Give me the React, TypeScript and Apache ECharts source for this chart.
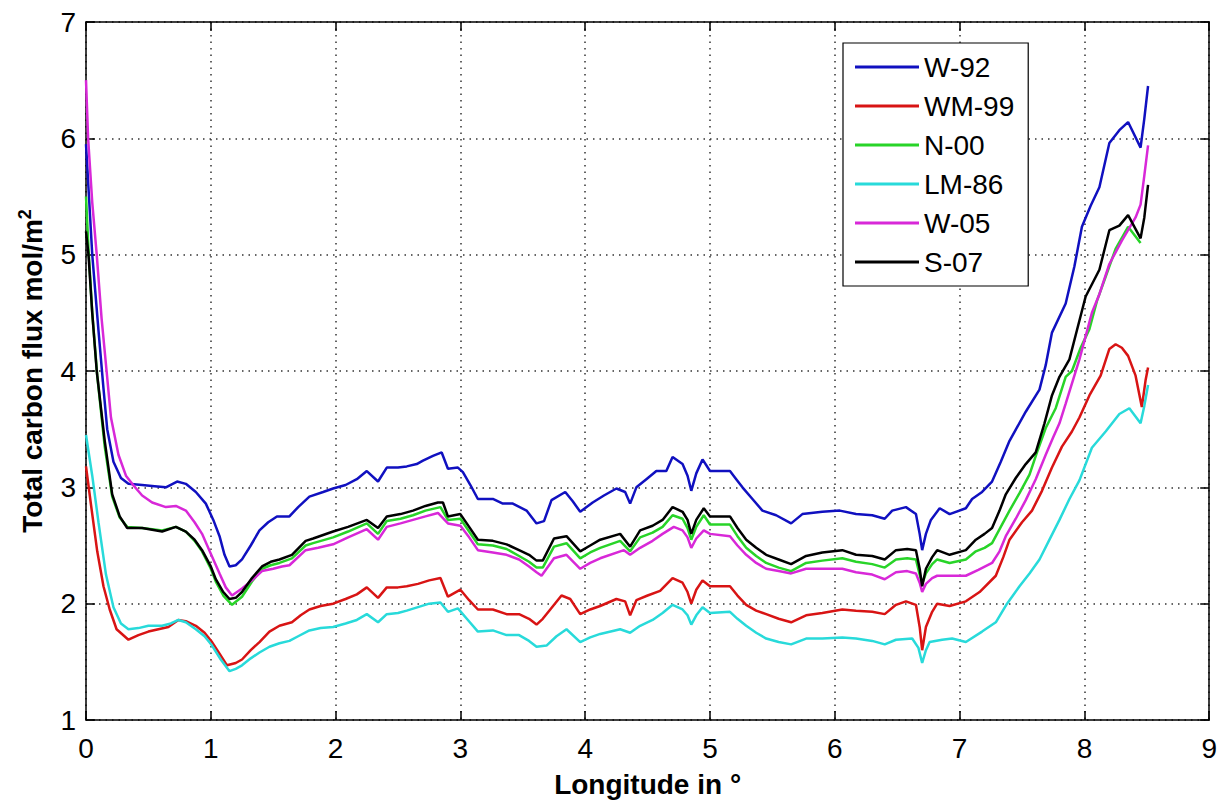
import React, { useEffect, useRef } from "react";
import * as echarts from "echarts";

type Pt = [number, number];

const W92: Pt[] = [[0,5.95],[0.05,5.0],[0.1,4.35],[0.14,3.85],[0.17,3.5],[0.22,3.22],[0.28,3.08],[0.34,3.03],[0.45,3.02],[0.55,3.01],[0.64,3.0],[0.73,3.05],[0.8,3.03],[0.88,2.96],[0.96,2.86],[1.02,2.72],[1.07,2.58],[1.11,2.42],[1.15,2.32],[1.2,2.33],[1.25,2.38],[1.32,2.5],[1.39,2.63],[1.46,2.7],[1.53,2.75],[1.63,2.75],[1.7,2.83],[1.79,2.92],[1.9,2.96],[1.98,2.99],[2.08,3.02],[2.17,3.07],[2.25,3.14],[2.34,3.05],[2.41,3.17],[2.5,3.17],[2.57,3.18],[2.65,3.2],[2.7,3.23],[2.78,3.27],[2.85,3.3],[2.9,3.16],[2.98,3.17],[3.02,3.13],[3.08,3.02],[3.14,2.9],[3.26,2.9],[3.34,2.86],[3.42,2.86],[3.53,2.8],[3.61,2.69],[3.67,2.71],[3.73,2.89],[3.84,2.96],[3.9,2.88],[3.96,2.79],[4.06,2.87],[4.15,2.93],[4.25,2.99],[4.32,2.96],[4.36,2.86],[4.41,3.0],[4.49,3.07],[4.57,3.14],[4.65,3.14],[4.7,3.26],[4.78,3.2],[4.82,3.1],[4.85,2.97],[4.89,3.12],[4.94,3.24],[5.0,3.14],[5.16,3.14],[5.21,3.07],[5.26,3.0],[5.34,2.9],[5.42,2.8],[5.53,2.76],[5.65,2.69],[5.74,2.77],[5.9,2.79],[6.04,2.8],[6.17,2.77],[6.3,2.76],[6.4,2.73],[6.46,2.8],[6.57,2.83],[6.65,2.77],[6.68,2.6],[6.7,2.46],[6.73,2.6],[6.77,2.72],[6.84,2.82],[6.92,2.77],[7.05,2.82],[7.1,2.9],[7.18,2.96],[7.26,3.05],[7.33,3.22],[7.4,3.4],[7.53,3.65],[7.64,3.84],[7.69,4.05],[7.74,4.33],[7.85,4.58],[7.92,4.9],[7.98,5.24],[8.05,5.42],[8.12,5.58],[8.2,5.96],[8.28,6.07],[8.35,6.14],[8.45,5.92],[8.48,6.17],[8.51,6.45]];

const WM99: Pt[] = [[0,3.18],[0.04,2.85],[0.09,2.45],[0.14,2.15],[0.19,1.95],[0.245,1.78],[0.34,1.69],[0.42,1.73],[0.5,1.76],[0.58,1.78],[0.66,1.8],[0.74,1.86],[0.8,1.85],[0.88,1.81],[0.95,1.75],[1.01,1.67],[1.07,1.57],[1.13,1.47],[1.2,1.49],[1.25,1.52],[1.32,1.6],[1.39,1.67],[1.47,1.76],[1.55,1.81],[1.65,1.84],[1.72,1.9],[1.79,1.95],[1.88,1.98],[1.98,2.0],[2.08,2.04],[2.17,2.08],[2.25,2.14],[2.34,2.05],[2.41,2.14],[2.5,2.14],[2.57,2.15],[2.66,2.17],[2.75,2.2],[2.84,2.22],[2.9,2.06],[3.0,2.12],[3.07,2.03],[3.14,1.95],[3.26,1.95],[3.37,1.91],[3.47,1.91],[3.55,1.87],[3.61,1.82],[3.66,1.87],[3.72,1.95],[3.81,2.07],[3.88,2.04],[3.96,1.91],[4.04,1.95],[4.12,1.98],[4.25,2.04],[4.32,2.02],[4.36,1.9],[4.41,2.03],[4.5,2.07],[4.6,2.11],[4.7,2.22],[4.78,2.18],[4.82,2.1],[4.85,2.0],[4.89,2.12],[4.94,2.2],[5.0,2.15],[5.16,2.15],[5.22,2.07],[5.29,1.99],[5.37,1.94],[5.45,1.91],[5.55,1.87],[5.65,1.84],[5.77,1.9],[5.9,1.92],[6.06,1.95],[6.17,1.94],[6.3,1.93],[6.4,1.91],[6.49,1.99],[6.57,2.02],[6.65,1.99],[6.68,1.8],[6.7,1.6],[6.73,1.8],[6.78,1.93],[6.82,2.0],[6.92,1.98],[7.05,2.02],[7.16,2.1],[7.29,2.24],[7.35,2.4],[7.4,2.55],[7.5,2.7],[7.58,2.8],[7.66,2.97],[7.74,3.17],[7.82,3.35],[7.9,3.48],[7.96,3.6],[8.04,3.79],[8.13,3.96],[8.2,4.19],[8.25,4.23],[8.3,4.2],[8.35,4.13],[8.41,3.96],[8.46,3.69],[8.49,3.92],[8.51,4.03]];

const N00: Pt[] = [[0,5.5],[0.02,5.05],[0.05,4.5],[0.09,3.96],[0.15,3.35],[0.21,2.92],[0.27,2.74],[0.33,2.66],[0.45,2.65],[0.61,2.63],[0.72,2.66],[0.8,2.62],[0.87,2.54],[0.93,2.45],[1.0,2.3],[1.04,2.19],[1.1,2.07],[1.17,1.99],[1.25,2.06],[1.33,2.19],[1.41,2.3],[1.48,2.33],[1.55,2.35],[1.65,2.39],[1.76,2.5],[1.82,2.52],[1.98,2.57],[2.1,2.62],[2.25,2.69],[2.34,2.6],[2.41,2.71],[2.52,2.73],[2.62,2.76],[2.72,2.8],[2.84,2.83],[2.9,2.72],[3.0,2.73],[3.07,2.62],[3.14,2.51],[3.26,2.5],[3.37,2.47],[3.47,2.41],[3.55,2.36],[3.61,2.31],[3.66,2.31],[3.75,2.49],[3.85,2.52],[3.96,2.39],[4.04,2.44],[4.12,2.48],[4.28,2.54],[4.36,2.45],[4.44,2.57],[4.54,2.61],[4.62,2.66],[4.7,2.76],[4.78,2.73],[4.82,2.65],[4.85,2.55],[4.89,2.66],[4.95,2.76],[5.0,2.68],[5.16,2.68],[5.22,2.58],[5.29,2.48],[5.37,2.41],[5.45,2.35],[5.55,2.31],[5.65,2.28],[5.77,2.35],[5.9,2.37],[6.06,2.39],[6.17,2.36],[6.3,2.34],[6.4,2.31],[6.49,2.38],[6.58,2.39],[6.65,2.38],[6.68,2.25],[6.7,2.17],[6.73,2.26],[6.78,2.34],[6.82,2.38],[6.92,2.35],[7.05,2.38],[7.13,2.45],[7.2,2.48],[7.26,2.52],[7.33,2.66],[7.4,2.8],[7.48,2.95],[7.56,3.11],[7.62,3.3],[7.69,3.51],[7.77,3.68],[7.85,3.95],[7.9,4.0],[7.97,4.2],[8.04,4.36],[8.1,4.6],[8.17,4.81],[8.25,5.05],[8.35,5.24],[8.45,5.1]];

const LM86: Pt[] = [[0,3.45],[0.05,3.1],[0.1,2.7],[0.16,2.25],[0.22,1.97],[0.28,1.83],[0.34,1.78],[0.42,1.79],[0.5,1.81],[0.61,1.81],[0.68,1.83],[0.74,1.86],[0.8,1.84],[0.88,1.78],[0.95,1.72],[1.01,1.64],[1.08,1.52],[1.15,1.42],[1.2,1.44],[1.25,1.47],[1.32,1.53],[1.39,1.58],[1.47,1.63],[1.55,1.66],[1.63,1.68],[1.7,1.72],[1.79,1.77],[1.88,1.79],[1.98,1.8],[2.08,1.83],[2.17,1.86],[2.25,1.91],[2.34,1.84],[2.41,1.91],[2.5,1.92],[2.57,1.94],[2.66,1.97],[2.75,2.0],[2.84,2.01],[2.9,1.93],[2.98,1.96],[3.06,1.86],[3.14,1.76],[3.26,1.77],[3.37,1.73],[3.47,1.73],[3.55,1.68],[3.61,1.63],[3.69,1.64],[3.77,1.72],[3.85,1.78],[3.96,1.67],[4.04,1.71],[4.12,1.74],[4.28,1.78],[4.36,1.75],[4.44,1.81],[4.54,1.86],[4.62,1.92],[4.7,1.99],[4.78,1.95],[4.82,1.9],[4.85,1.82],[4.89,1.9],[4.94,1.97],[5.0,1.92],[5.16,1.93],[5.22,1.87],[5.29,1.81],[5.37,1.75],[5.45,1.7],[5.55,1.67],[5.65,1.65],[5.77,1.7],[5.9,1.7],[6.06,1.71],[6.17,1.7],[6.3,1.68],[6.4,1.65],[6.49,1.69],[6.62,1.7],[6.67,1.62],[6.7,1.49],[6.73,1.6],[6.76,1.67],[6.86,1.69],[6.94,1.7],[7.05,1.67],[7.18,1.76],[7.29,1.84],[7.38,2.0],[7.48,2.15],[7.56,2.26],[7.64,2.38],[7.72,2.55],[7.8,2.72],[7.88,2.9],[7.96,3.06],[8.06,3.34],[8.17,3.48],[8.28,3.63],[8.36,3.68],[8.45,3.55],[8.48,3.7],[8.51,3.88]];

const W05: Pt[] = [[0,6.5],[0.017,6.0],[0.05,5.45],[0.086,5.0],[0.125,4.45],[0.165,4.0],[0.2,3.6],[0.26,3.28],[0.32,3.1],[0.37,3.03],[0.45,2.93],[0.53,2.87],[0.64,2.83],[0.72,2.84],[0.8,2.8],[0.87,2.7],[0.93,2.6],[1.0,2.43],[1.07,2.26],[1.12,2.14],[1.17,2.07],[1.25,2.13],[1.33,2.2],[1.41,2.28],[1.5,2.3],[1.57,2.32],[1.63,2.33],[1.76,2.46],[1.86,2.48],[1.98,2.51],[2.1,2.57],[2.25,2.64],[2.34,2.55],[2.41,2.66],[2.52,2.69],[2.62,2.72],[2.72,2.75],[2.82,2.78],[2.9,2.69],[3.0,2.67],[3.07,2.57],[3.14,2.46],[3.26,2.44],[3.37,2.42],[3.47,2.38],[3.55,2.32],[3.61,2.27],[3.65,2.24],[3.75,2.39],[3.85,2.42],[3.96,2.3],[4.04,2.35],[4.12,2.39],[4.31,2.46],[4.36,2.42],[4.44,2.48],[4.54,2.54],[4.62,2.6],[4.71,2.66],[4.78,2.63],[4.82,2.57],[4.85,2.48],[4.89,2.56],[4.95,2.63],[5.0,2.6],[5.16,2.58],[5.22,2.5],[5.29,2.42],[5.37,2.35],[5.45,2.3],[5.55,2.28],[5.65,2.26],[5.77,2.3],[5.9,2.3],[6.06,2.3],[6.17,2.27],[6.3,2.25],[6.4,2.21],[6.49,2.27],[6.58,2.28],[6.65,2.26],[6.68,2.18],[6.7,2.1],[6.73,2.17],[6.78,2.22],[6.82,2.24],[6.92,2.24],[7.05,2.24],[7.15,2.29],[7.26,2.35],[7.32,2.45],[7.37,2.58],[7.45,2.73],[7.53,2.89],[7.61,3.07],[7.69,3.28],[7.75,3.43],[7.8,3.55],[7.85,3.72],[7.96,4.1],[8.06,4.5],[8.12,4.66],[8.2,4.92],[8.3,5.12],[8.41,5.32],[8.45,5.43],[8.48,5.68],[8.51,5.94]];

const S07: Pt[] = [[0,5.2],[0.02,5.0],[0.05,4.5],[0.086,4.0],[0.15,3.4],[0.21,2.94],[0.27,2.75],[0.33,2.65],[0.45,2.65],[0.61,2.62],[0.72,2.66],[0.8,2.62],[0.87,2.55],[0.93,2.46],[1.0,2.32],[1.04,2.21],[1.1,2.1],[1.15,2.04],[1.2,2.05],[1.25,2.1],[1.33,2.22],[1.41,2.32],[1.48,2.36],[1.55,2.38],[1.65,2.42],[1.76,2.54],[1.82,2.56],[1.98,2.62],[2.1,2.66],[2.25,2.72],[2.34,2.65],[2.41,2.75],[2.52,2.77],[2.62,2.8],[2.72,2.84],[2.82,2.87],[2.86,2.87],[2.9,2.75],[3.0,2.77],[3.07,2.66],[3.14,2.55],[3.26,2.54],[3.37,2.51],[3.47,2.46],[3.55,2.42],[3.61,2.37],[3.66,2.37],[3.75,2.56],[3.85,2.58],[3.96,2.45],[4.04,2.5],[4.12,2.55],[4.28,2.6],[4.36,2.49],[4.44,2.63],[4.54,2.67],[4.62,2.72],[4.7,2.83],[4.78,2.79],[4.82,2.72],[4.85,2.6],[4.89,2.72],[4.95,2.82],[5.0,2.75],[5.16,2.75],[5.22,2.65],[5.29,2.55],[5.37,2.48],[5.45,2.42],[5.55,2.38],[5.65,2.34],[5.77,2.41],[5.9,2.44],[6.06,2.46],[6.17,2.42],[6.3,2.41],[6.4,2.38],[6.49,2.46],[6.58,2.47],[6.65,2.46],[6.68,2.3],[6.7,2.15],[6.73,2.3],[6.78,2.4],[6.82,2.46],[6.92,2.42],[7.05,2.46],[7.13,2.55],[7.2,2.6],[7.26,2.65],[7.32,2.8],[7.37,2.94],[7.45,3.08],[7.53,3.2],[7.61,3.3],[7.68,3.55],[7.74,3.79],[7.8,3.95],[7.88,4.1],[7.94,4.35],[8.01,4.64],[8.12,4.87],[8.2,5.21],[8.28,5.25],[8.35,5.34],[8.45,5.14],[8.48,5.32],[8.51,5.6]];

const seriesNames = ["W-92", "WM-99", "N-00", "LM-86", "W-05", "S-07"];
const seriesData = [W92, WM99, N00, LM86, W05, S07];
const seriesColors = ["#1010c0", "#d81414", "#28d428", "#28dada", "#d828d8", "#000000"];

const xTitle = "Longitude in °";
const yTitle = "Total carbon flux mol/m{sup|2}";

const FONT = "'Liberation Sans', Arial, sans-serif";

export default function App() {
  const ref = useRef<HTMLDivElement>(null);
  useEffect(() => {
    if (!ref.current) return;
    const chart = echarts.init(ref.current, null, { renderer: "svg" });
    const gridDots = { show: true, lineStyle: { color: "#333", width: 1.5, type: [1.5, 5] as any } };
    const axisLine = { show: true, onZero: false, lineStyle: { color: "#000", width: 1.5 } };
    const tickIn = { show: true, inside: true, length: 9, lineStyle: { color: "#000", width: 1.5 } };
    const labelStyle = { color: "#000", fontSize: 28, fontFamily: FONT };
    chart.setOption({
      animation: false,
      backgroundColor: "#fff",
      grid: { left: 86, right: 10, top: 22, bottom: 74 },
      xAxis: [
        {
          type: "value", min: 0, max: 9, interval: 1,
          axisLine, axisTick: tickIn,
          axisLabel: { ...labelStyle, margin: 14 },
          splitLine: gridDots,
          name: xTitle, nameLocation: "middle", nameGap: 50,
          nameTextStyle: { color: "#000", fontSize: 28, fontWeight: "bold", fontFamily: FONT },
        },
        {
          type: "value", min: 0, max: 9, interval: 1, position: "top",
          axisLine, axisTick: tickIn, axisLabel: { show: false }, splitLine: { show: false },
        },
      ],
      yAxis: [
        {
          type: "value", min: 1, max: 7, interval: 1,
          axisLine, axisTick: tickIn,
          axisLabel: { ...labelStyle, margin: 10 },
          splitLine: gridDots,
          name: yTitle, nameLocation: "middle", nameGap: 38, nameRotate: 90,
          nameTextStyle: {
            color: "#000", fontSize: 28, fontWeight: "bold", fontFamily: FONT,
            rich: { sup: { fontSize: 18, fontWeight: "bold", fontFamily: FONT, color: "#000", padding: [0, 0, 14, 0] } },
          },
        },
        {
          type: "value", min: 1, max: 7, interval: 1, position: "right",
          axisLine, axisTick: tickIn, axisLabel: { show: false }, splitLine: { show: false },
        },
      ],
      legend: {
        orient: "vertical", left: 843, top: 43,
        backgroundColor: "#fff", borderColor: "#000", borderWidth: 1.2,
        padding: [10, 14, 10, 12],
        itemWidth: 64, itemHeight: 3, itemGap: 11, icon: "rect",
        textStyle: { color: "#000", fontSize: 28, fontFamily: FONT },
        data: seriesNames,
      },
      series: seriesNames.map((name, i) => ({
        name, type: "line", data: seriesData[i],
        showSymbol: false, symbol: "none",
        color: seriesColors[i],
        lineStyle: { color: seriesColors[i], width: 2.5 },
        z: 2 + i,
      })),
    });
    return () => chart.dispose();
  }, []);
  return <div ref={ref} style={{ position: "fixed", left: 0, top: 0, width: 1220, height: 803 }} />;
}
